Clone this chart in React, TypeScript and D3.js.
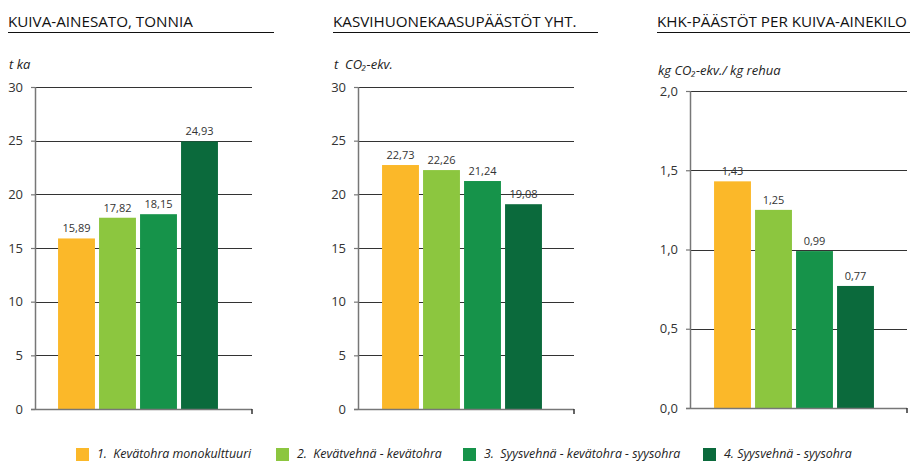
import React from "react";
import * as d3 from "d3";

const categories = [
  "1.  Kevätohra monokulttuuri",
  "2.  Kevätvehnä - kevätohra",
  "3.  Syysvehnä - kevätohra - syysohra",
  "4. Syysvehnä - syysohra",
];
const colors = ["#FBB829", "#8CC63F", "#16934A", "#0B6A3C"];

const dryMatter = [15.89, 17.82, 18.15, 24.93];
const ghgTotal = [22.73, 22.26, 21.24, 19.08];
const ghgPerKg = [1.43, 1.25, 0.99, 0.77];

const ticks30 = [0, 5, 10, 15, 20, 25, 30];
const ticks2 = [0, 0.5, 1.0, 1.5, 2.0];

const titles = [
  "KUIVA-AINESATO, TONNIA",
  "KASVIHUONEKAASUPÄÄSTÖT YHT.",
  "KHK-PÄÄSTÖT PER KUIVA-AINEKILO",
];

const FONT = "'Open Sans', 'Noto Sans', sans-serif";

interface PanelProps {
  values: number[];
  ticks: number[];
  tickDigits: number;
  title: string;
  titleX: number;
  ruleEnd: number;
  unit: React.ReactNode;
  unitY: number;
  axisX: number;
  rightX: number;
  barStart: number;
  top: number;
  bottom: number;
}

const fmt = (v: number, digits: number) => v.toFixed(digits).replace(".", ",");

const Panel: React.FC<PanelProps> = ({
  values,
  ticks,
  tickDigits,
  title,
  titleX,
  ruleEnd,
  unit,
  unitY,
  axisX,
  rightX,
  barStart,
  top,
  bottom,
}) => {
  const y = d3
    .scaleLinear()
    .domain([0, d3.max(ticks)!])
    .range([bottom, top]);
  const x = d3
    .scaleBand<number>()
    .domain(d3.range(values.length))
    .range([barStart, barStart + 164])
    .paddingInner(0.1)
    .paddingOuter(0.05);

  return (
    <g>
      <text x={titleX} y={27} fontSize={15.2} fill="#111" fontFamily={FONT}>
        {title}
      </text>
      <line x1={titleX} x2={ruleEnd} y1={32.5} y2={32.5} stroke="#111" strokeWidth={1} />
      <text x={titleX + 1} y={unitY} fontSize={13} fontStyle="italic" fill="#222" fontFamily={FONT}>
        {unit}
      </text>

      {ticks
        .filter((t) => t > 0)
        .map((t) => (
          <line
            key={"g" + t}
            x1={axisX}
            x2={rightX}
            y1={Math.round(y(t)) + 0.5}
            y2={Math.round(y(t)) + 0.5}
            stroke="#333"
            strokeWidth={1}
          />
        ))}

      {values.map((v, i) => (
        <rect
          key={"b" + i}
          x={x(i)!}
          y={y(v)}
          width={x.bandwidth()}
          height={bottom - y(v)}
          fill={colors[i]}
        />
      ))}

      {values.map((v, i) => (
        <text
          key={"v" + i}
          x={x(i)! + x.bandwidth() / 2}
          y={y(v) - 6}
          fontSize={11}
          textAnchor="middle"
          fill="#333"
          fontFamily={FONT}
        >
          {fmt(v, 2)}
        </text>
      ))}

      <line x1={axisX + 0.5} x2={axisX + 0.5} y1={top} y2={bottom + 1} stroke="#777" strokeWidth={1.5} />
      <line x1={axisX - 4} x2={rightX} y1={bottom + 0.5} y2={bottom + 0.5} stroke="#777" strokeWidth={1.5} />
      <line x1={rightX} x2={rightX} y1={bottom} y2={bottom + 5} stroke="#333" strokeWidth={1.5} />

      {ticks.map((t) => (
        <g key={"t" + t}>
          <line x1={axisX - 4} x2={axisX} y1={y(t) + 0.5} y2={y(t) + 0.5} stroke="#777" strokeWidth={1.2} />
          <text
            x={axisX - 12}
            y={y(t) + 4.5}
            fontSize={13}
            textAnchor="end"
            fill="#333"
            fontFamily={FONT}
          >
            {fmt(t, tickDigits)}
          </text>
        </g>
      ))}
    </g>
  );
};

export default function App() {
  const legendX = [76, 276, 463, 703];
  return (
    <svg
      width={910}
      height={462}
      style={{ position: "absolute", left: 0, top: 0, background: "#fff" }}
    >
      <Panel
        values={dryMatter}
        ticks={ticks30}
        tickDigits={0}
        title={titles[0]}
        titleX={8}
        ruleEnd={274}
        unit="t ka"
        unitY={69}
        axisX={35}
        rightX={252}
        barStart={56}
        top={87}
        bottom={409}
      />
      <Panel
        values={ghgTotal}
        ticks={ticks30}
        tickDigits={0}
        title={titles[1]}
        titleX={333}
        ruleEnd={598}
        unit={<tspan>t{"\u00a0\u00a0"}CO₂-ekv.</tspan>}
        unitY={69}
        axisX={358}
        rightX={574}
        barStart={380}
        top={87}
        bottom={409}
      />
      <Panel
        values={ghgPerKg}
        ticks={ticks2}
        tickDigits={1}
        title={titles[2]}
        titleX={657}
        ruleEnd={910}
        unit="kg CO₂-ekv./ kg rehua"
        unitY={75}
        axisX={690}
        rightX={907}
        barStart={712}
        top={91}
        bottom={408}
      />

      {categories.map((c, i) => (
        <g key={"l" + i}>
          <rect x={legendX[i]} y={448} width={13} height={13} fill={colors[i]} />
          <text
            x={legendX[i] + 21}
            y={458}
            fontSize={12.4}
            fontStyle="italic"
            fill="#222"
            fontFamily={FONT}
            style={{ whiteSpace: "pre" }}
          >
            {c}
          </text>
        </g>
      ))}
    </svg>
  );
}
